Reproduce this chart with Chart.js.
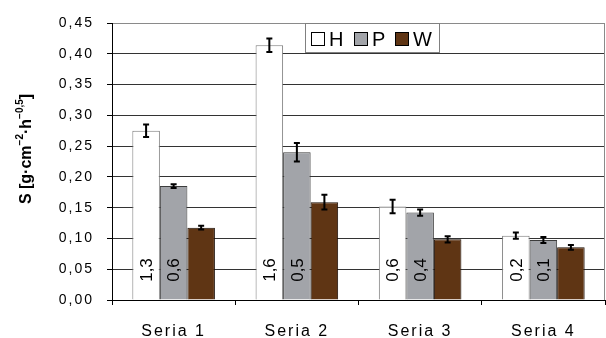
<!DOCTYPE html>
<html>
<head>
<meta charset="utf-8">
<script src="https://cdn.jsdelivr.net/npm/chart.js@4/dist/chart.umd.min.js"></script>
<style>
  body { margin: 0; background: #fff; }
  #wrap { width: 606px; height: 338px; }
</style>
</head>
<body>
<div id="wrap"><canvas id="chart" width="606" height="338"></canvas></div>
<script>
// dane
const categories = ['Seria 1', 'Seria 2', 'Seria 3', 'Seria 4'];
const seriesNames = ['H', 'P', 'W'];
const valuesH = [0.275, 0.414, 0.152, 0.1045];
const valuesP = [0.185, 0.240, 0.142, 0.0975];
const valuesW = [0.1175, 0.159, 0.0985, 0.0855];
const errH = [0.010, 0.011, 0.011, 0.005];
const errP = [0.003, 0.015, 0.005, 0.005];
const errW = [0.003, 0.012, 0.005, 0.004];
const innerLabelsH = ['1,3', '1,6', '0,6', '0,2'];
const innerLabelsP = ['0,6', '0,5', '0,4', '0,1'];
const yMin = 0, yMax = 0.45, yStep = 0.05;

const FONT = "'Liberation Sans', Arial, sans-serif";

// słupki błędów, etykiety w słupkach, legenda i opis osi Y
const extras = {
    id: 'extras',
    beforeDraw(chart) {
        const c = chart.ctx;
        c.save();
        c.fillStyle = '#fff';
        c.fillRect(0, 0, chart.width, chart.height);
        c.restore();
        // rozstrzelone etykiety osi, jak w oryginale
        c.letterSpacing = '2px';
    },
    beforeDatasetsDraw(chart) {
        const c = chart.ctx, a = chart.chartArea;
        c.letterSpacing = '0px';
        c.save();
        c.strokeStyle = '#8a8a8a';
        c.lineWidth = 1;
        c.beginPath();
        c.moveTo(Math.round(a.right) - 0.5, a.top);
        c.lineTo(Math.round(a.right) - 0.5, a.bottom);
        c.stroke();
        c.restore();
    },
    afterDatasetsDraw(chart) {
        const c = chart.ctx;
        const y = chart.scales.y;
        const errs = [errH, errP, errW];
        const inner = [innerLabelsH, innerLabelsP, null];

        c.save();
        chart.data.datasets.forEach((ds, di) => {
            const meta = chart.getDatasetMeta(di);
            meta.data.forEach((bar, i) => {
                const v = ds.data[i];
                const e = errs[di][i];
                const top = y.getPixelForValue(v + e);
                const bot = y.getPixelForValue(v - e);
                c.strokeStyle = '#000';
                c.lineWidth = 2;
                c.beginPath();
                c.moveTo(bar.x, top);
                c.lineTo(bar.x, bot);
                c.moveTo(bar.x - 3, top);
                c.lineTo(bar.x + 3, top);
                c.moveTo(bar.x - 3, bot);
                c.lineTo(bar.x + 3, bot);
                c.stroke();

                if (inner[di]) {
                    c.save();
                    c.translate(bar.x, 270);
                    c.rotate(-Math.PI / 2);
                    c.fillStyle = '#000';
                    c.font = '17px ' + FONT;
                    c.textAlign = 'center';
                    c.textBaseline = 'middle';
                    c.fillText(inner[di][i], 0, 1);
                    c.restore();
                }
            });
        });

        // legenda
        c.fillStyle = '#fff';
        c.fillRect(305, 23, 134, 29);
        c.strokeStyle = '#808080';
        c.lineWidth = 1;
        c.strokeRect(305.5, 23.5, 134, 29);
        const lx = [311, 354, 395];
        c.font = '20px ' + FONT;
        c.textBaseline = 'middle';
        c.textAlign = 'left';
        chart.data.datasets.forEach((ds, di) => {
            c.fillStyle = ds.backgroundColor;
            c.fillRect(lx[di], 32, 14, 14);
            c.strokeStyle = '#000';
            c.strokeRect(lx[di] + 0.5, 32.5, 13, 13);
            c.fillStyle = '#000';
            c.fillText(ds.label, lx[di] + 18, 40);
        });

        // opis osi Y z indeksami górnymi
        const parts = [
            ['S [g·cm', false], ['−2', true], ['·h', false], ['−0,5', true], [']', false]
        ];
        const mainF = 'bold 16px ' + FONT;
        const supF = 'bold 10px ' + FONT;
        let total = 0;
        parts.forEach(p => { c.font = p[1] ? supF : mainF; total += c.measureText(p[0]).width; });
        c.save();
        c.translate(31, 149);
        c.rotate(-Math.PI / 2);
        c.fillStyle = '#000';
        c.textBaseline = 'alphabetic';
        let x = -total / 2;
        parts.forEach(p => {
            c.font = p[1] ? supF : mainF;
            c.fillText(p[0], x, p[1] ? -8 : 0);
            x += c.measureText(p[0]).width;
        });
        c.restore();
        c.restore();
    }
};

new Chart(document.getElementById('chart'), {
    type: 'bar',
    data: {
        labels: categories,
        datasets: [
            { label: seriesNames[0], data: valuesH, backgroundColor: '#ffffff', borderColor: '#7a7a7a', borderWidth: 1 },
            { label: seriesNames[1], data: valuesP, backgroundColor: '#a2a4a9', borderColor: '#3c3c3c', borderWidth: 1 },
            { label: seriesNames[2], data: valuesW, backgroundColor: '#5f3514', borderColor: '#1a0d05', borderWidth: 1 }
        ]
    },
    options: {
        responsive: false,
        animation: false,
        layout: { padding: { top: 23, right: 1, left: 0, bottom: 0 } },
        datasets: { bar: { categoryPercentage: 0.67, barPercentage: 1, borderSkipped: 'start' } },
        plugins: { legend: { display: false }, tooltip: { enabled: false } },
        scales: {
            x: {
                grid: { offset: true, drawOnChartArea: false, drawTicks: true, tickLength: 5, tickColor: '#000' },
                border: { color: '#000', width: 1 },
                ticks: { color: '#000', font: { family: FONT, size: 16 }, padding: 17 },
                afterFit(scale) { scale.height = 38; }
            },
            y: {
                min: yMin,
                max: yMax,
                ticks: {
                    stepSize: yStep,
                    color: '#000',
                    font: { family: FONT, size: 14 },
                    padding: 13,
                    callback: v => v.toFixed(2).replace('.', ',')
                },
                grid: {
                    color: ctx => (ctx.tick && Math.abs(ctx.tick.value - yMax) < 1e-6) ? '#8a8a8a' : '#333',
                    tickLength: 5,
                    tickColor: '#000'
                },
                border: { color: '#000', width: 1 },
                afterFit(scale) { scale.width = 112; }
            }
        }
    },
    plugins: [extras]
});
</script>
</body>
</html>
